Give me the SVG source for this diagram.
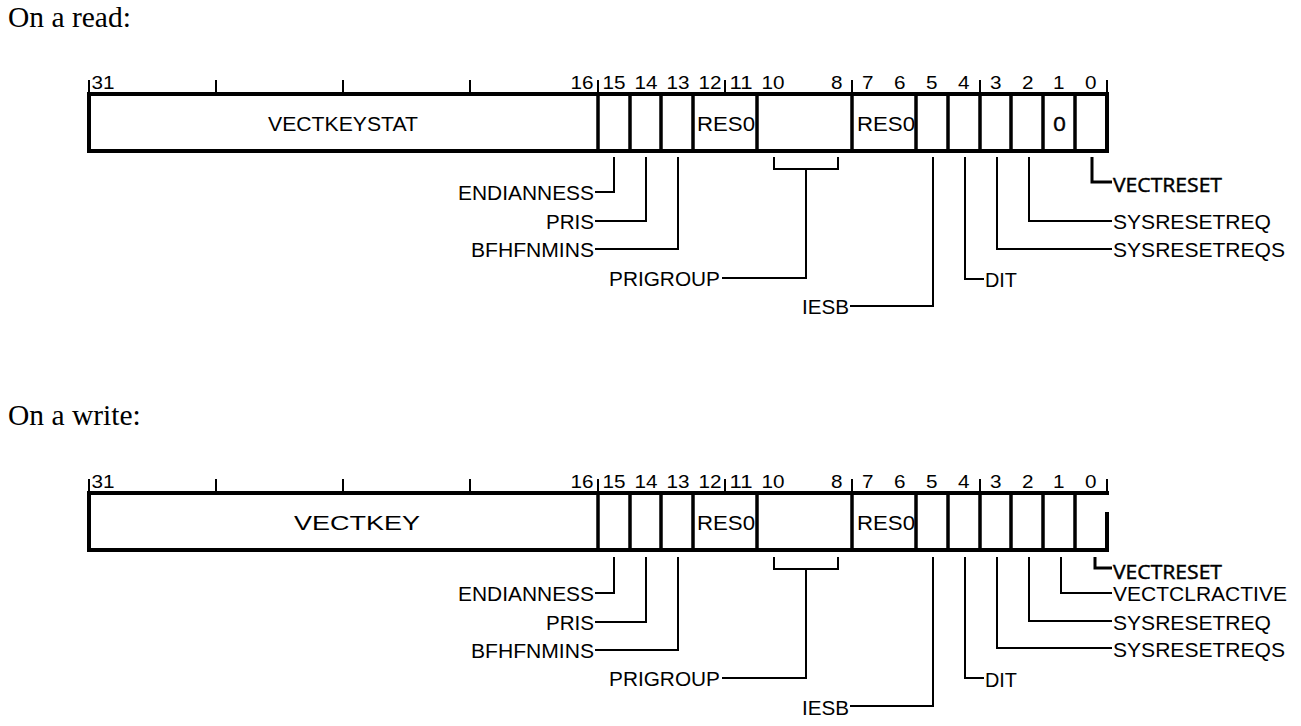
<svg xmlns="http://www.w3.org/2000/svg" width="1301" height="726" viewBox="0 0 1301 726">
<style>
.bg{fill:#fff}
.box{fill:none;stroke:#000;stroke-width:4}
.div{stroke:#000;stroke-width:3.5}
.tick{stroke:#000;stroke-width:2}
.ld{fill:none;stroke:#000;stroke-width:2}
.ldb{fill:none;stroke:#000;stroke-width:3}
.num{font-family:"Liberation Sans",Arial,sans-serif;font-size:18.5px;fill:#000}
.lbl{font-family:"Liberation Sans",Arial,sans-serif;font-size:20px;fill:#000}
.lblb{font-family:"Open Sans","Noto Sans",sans-serif;font-size:19.5px;fill:#000;stroke:#000;stroke-width:0.45}
.ttl{font-family:"Liberation Serif","Times New Roman",serif;font-size:29.5px;fill:#000}
</style>
<rect class="bg" x="0" y="0" width="1301" height="726"/>
<text class="ttl" x="8" y="27">On a read:</text>
<text class="ttl" x="8" y="425">On a write:</text>

<!-- READ register -->
<g id="read-register">
  <g id="read-ticks">
    <line class="tick" x1="89" y1="80" x2="89" y2="94"/>
    <line class="tick" x1="216" y1="80" x2="216" y2="94"/>
    <line class="tick" x1="343" y1="80" x2="343" y2="94"/>
    <line class="tick" x1="470" y1="80" x2="470" y2="94"/>
    <line class="tick" x1="598" y1="80" x2="598" y2="94"/>
    <line class="tick" x1="725" y1="80" x2="725" y2="94"/>
    <line class="tick" x1="852" y1="80" x2="852" y2="94"/>
    <line class="tick" x1="980" y1="80" x2="980" y2="94"/>
    <line class="tick" x1="1107" y1="80" x2="1107" y2="94"/>
  </g>
  <g id="read-bitnums">
    <text class="num" x="91.5" y="89" textLength="23" lengthAdjust="spacingAndGlyphs">31</text>
    <text class="num" x="570.5" y="89" textLength="23" lengthAdjust="spacingAndGlyphs">16</text>
    <text class="num" x="602.5" y="89" textLength="23" lengthAdjust="spacingAndGlyphs">15</text>
    <text class="num" x="634.5" y="89" textLength="23" lengthAdjust="spacingAndGlyphs">14</text>
    <text class="num" x="666.5" y="89" textLength="23" lengthAdjust="spacingAndGlyphs">13</text>
    <text class="num" x="698.5" y="89" textLength="23" lengthAdjust="spacingAndGlyphs">12</text>
    <text class="num" x="729.5" y="89" textLength="23" lengthAdjust="spacingAndGlyphs">11</text>
    <text class="num" x="761.5" y="89" textLength="23" lengthAdjust="spacingAndGlyphs">10</text>
    <text class="num" x="831" y="89" textLength="11.5" lengthAdjust="spacingAndGlyphs">8</text>
    <text class="num" x="862" y="89" textLength="11.5" lengthAdjust="spacingAndGlyphs">7</text>
    <text class="num" x="894" y="89" textLength="11.5" lengthAdjust="spacingAndGlyphs">6</text>
    <text class="num" x="926" y="89" textLength="11.5" lengthAdjust="spacingAndGlyphs">5</text>
    <text class="num" x="958" y="89" textLength="11.5" lengthAdjust="spacingAndGlyphs">4</text>
    <text class="num" x="990" y="89" textLength="11.5" lengthAdjust="spacingAndGlyphs">3</text>
    <text class="num" x="1022" y="89" textLength="11.5" lengthAdjust="spacingAndGlyphs">2</text>
    <text class="num" x="1053" y="89" textLength="11.5" lengthAdjust="spacingAndGlyphs">1</text>
    <text class="num" x="1085" y="89" textLength="11.5" lengthAdjust="spacingAndGlyphs">0</text>
  </g>
  <rect class="box" x="89" y="94" width="1018" height="57"/>
  <g id="read-field-vectkeystat"><text class="lbl" x="268" y="131" textLength="150" lengthAdjust="spacingAndGlyphs">VECTKEYSTAT</text></g>
  <g id="read-field-endianness"><line class="div" x1="598" y1="94" x2="598" y2="151"/></g>
  <g id="read-field-pris"><line class="div" x1="630" y1="94" x2="630" y2="151"/></g>
  <g id="read-field-bfhfnmins"><line class="div" x1="661" y1="94" x2="661" y2="151"/></g>
  <g id="read-field-res0-a"><line class="div" x1="693" y1="94" x2="693" y2="151"/><text class="lbl" x="697" y="131" textLength="58" lengthAdjust="spacingAndGlyphs">RES0</text></g>
  <g id="read-field-prigroup"><line class="div" x1="757" y1="94" x2="757" y2="151"/></g>
  <g id="read-field-res0-b"><line class="div" x1="852" y1="94" x2="852" y2="151"/><text class="lbl" x="857" y="131" textLength="58" lengthAdjust="spacingAndGlyphs">RES0</text></g>
  <g id="read-field-iesb"><line class="div" x1="916" y1="94" x2="916" y2="151"/></g>
  <g id="read-field-dit"><line class="div" x1="948" y1="94" x2="948" y2="151"/></g>
  <g id="read-field-sysresetreqs"><line class="div" x1="980" y1="94" x2="980" y2="151"/></g>
  <g id="read-field-sysresetreq"><line class="div" x1="1011" y1="94" x2="1011" y2="151"/></g>
  <g id="read-field-bit1"><line class="div" x1="1043" y1="94" x2="1043" y2="151"/><text class="lblb" x="1053" y="131" textLength="13" lengthAdjust="spacingAndGlyphs">0</text></g>
  <g id="read-field-vectreset"><line class="div" x1="1075" y1="94" x2="1075" y2="151"/></g>
</g>

<g id="read-labels">
  <text class="lbl" x="458" y="200" textLength="136" lengthAdjust="spacingAndGlyphs">ENDIANNESS</text>
  <text class="lbl" x="546" y="229" textLength="48" lengthAdjust="spacingAndGlyphs">PRIS</text>
  <text class="lbl" x="471" y="257" textLength="123" lengthAdjust="spacingAndGlyphs">BFHFNMINS</text>
  <text class="lbl" x="609" y="286" textLength="111" lengthAdjust="spacingAndGlyphs">PRIGROUP</text>
  <text class="lbl" x="802" y="314" textLength="47" lengthAdjust="spacingAndGlyphs">IESB</text>
  <text class="lbl" x="985" y="287" textLength="32" lengthAdjust="spacingAndGlyphs">DIT</text>
  <text class="lbl" x="1113" y="257" textLength="172" lengthAdjust="spacingAndGlyphs">SYSRESETREQS</text>
  <text class="lbl" x="1113" y="229" textLength="158" lengthAdjust="spacingAndGlyphs">SYSRESETREQ</text>
  <text class="lblb" x="1113" y="192" textLength="109" lengthAdjust="spacingAndGlyphs">VECTRESET</text>
</g>

<g id="read-connectors">
  <polyline class="ld" points="614,157 614,192 595,192"/>
  <polyline class="ld" points="646,157 646,221 595,221"/>
  <polyline class="ld" points="678,157 678,249 595,249"/>
  <polyline class="ld" points="774,157 774,169 838,169 838,157"/>
  <polyline class="ld" points="806,169 806,278 722,278"/>
  <polyline class="ld" points="933,157 933,306 850,306"/>
  <polyline class="ld" points="965,157 965,279 984,279"/>
  <polyline class="ld" points="997,157 997,249 1112,249"/>
  <polyline class="ld" points="1029,157 1029,221 1112,221"/>
  <polyline class="ldb" points="1092,157 1092,182 1112,182"/>
</g>

<!-- WRITE register -->
<g id="write-register">
  <g id="write-ticks">
    <line class="tick" x1="89" y1="479" x2="89" y2="493"/>
    <line class="tick" x1="216" y1="479" x2="216" y2="493"/>
    <line class="tick" x1="343" y1="479" x2="343" y2="493"/>
    <line class="tick" x1="470" y1="479" x2="470" y2="493"/>
    <line class="tick" x1="598" y1="479" x2="598" y2="493"/>
    <line class="tick" x1="725" y1="479" x2="725" y2="493"/>
    <line class="tick" x1="852" y1="479" x2="852" y2="493"/>
    <line class="tick" x1="980" y1="479" x2="980" y2="493"/>
    <line class="tick" x1="1107" y1="479" x2="1107" y2="493"/>
  </g>
  <g id="write-bitnums">
    <text class="num" x="91.5" y="488" textLength="23" lengthAdjust="spacingAndGlyphs">31</text>
    <text class="num" x="570.5" y="488" textLength="23" lengthAdjust="spacingAndGlyphs">16</text>
    <text class="num" x="602.5" y="488" textLength="23" lengthAdjust="spacingAndGlyphs">15</text>
    <text class="num" x="634.5" y="488" textLength="23" lengthAdjust="spacingAndGlyphs">14</text>
    <text class="num" x="666.5" y="488" textLength="23" lengthAdjust="spacingAndGlyphs">13</text>
    <text class="num" x="698.5" y="488" textLength="23" lengthAdjust="spacingAndGlyphs">12</text>
    <text class="num" x="729.5" y="488" textLength="23" lengthAdjust="spacingAndGlyphs">11</text>
    <text class="num" x="761.5" y="488" textLength="23" lengthAdjust="spacingAndGlyphs">10</text>
    <text class="num" x="831" y="488" textLength="11.5" lengthAdjust="spacingAndGlyphs">8</text>
    <text class="num" x="862" y="488" textLength="11.5" lengthAdjust="spacingAndGlyphs">7</text>
    <text class="num" x="894" y="488" textLength="11.5" lengthAdjust="spacingAndGlyphs">6</text>
    <text class="num" x="926" y="488" textLength="11.5" lengthAdjust="spacingAndGlyphs">5</text>
    <text class="num" x="958" y="488" textLength="11.5" lengthAdjust="spacingAndGlyphs">4</text>
    <text class="num" x="990" y="488" textLength="11.5" lengthAdjust="spacingAndGlyphs">3</text>
    <text class="num" x="1022" y="488" textLength="11.5" lengthAdjust="spacingAndGlyphs">2</text>
    <text class="num" x="1053" y="488" textLength="11.5" lengthAdjust="spacingAndGlyphs">1</text>
    <text class="num" x="1085" y="488" textLength="11.5" lengthAdjust="spacingAndGlyphs">0</text>
  </g>
  <path class="box" d="M1107,512 L1107,550 L89,550 L89,493 L1109,493"/>
  <g id="write-field-vectkey"><text class="lbl" x="294" y="530" textLength="126" lengthAdjust="spacingAndGlyphs">VECTKEY</text></g>
  <g id="write-field-endianness"><line class="div" x1="598" y1="493" x2="598" y2="550"/></g>
  <g id="write-field-pris"><line class="div" x1="630" y1="493" x2="630" y2="550"/></g>
  <g id="write-field-bfhfnmins"><line class="div" x1="661" y1="493" x2="661" y2="550"/></g>
  <g id="write-field-res0-a"><line class="div" x1="693" y1="493" x2="693" y2="550"/><text class="lbl" x="697" y="530" textLength="58" lengthAdjust="spacingAndGlyphs">RES0</text></g>
  <g id="write-field-prigroup"><line class="div" x1="757" y1="493" x2="757" y2="550"/></g>
  <g id="write-field-res0-b"><line class="div" x1="852" y1="493" x2="852" y2="550"/><text class="lbl" x="857" y="530" textLength="58" lengthAdjust="spacingAndGlyphs">RES0</text></g>
  <g id="write-field-iesb"><line class="div" x1="916" y1="493" x2="916" y2="550"/></g>
  <g id="write-field-dit"><line class="div" x1="948" y1="493" x2="948" y2="550"/></g>
  <g id="write-field-sysresetreqs"><line class="div" x1="980" y1="493" x2="980" y2="550"/></g>
  <g id="write-field-sysresetreq"><line class="div" x1="1011" y1="493" x2="1011" y2="550"/></g>
  <g id="write-field-vectclractive"><line class="div" x1="1043" y1="493" x2="1043" y2="550"/></g>
  <g id="write-field-vectreset"><line class="div" x1="1075" y1="493" x2="1075" y2="550"/></g>
</g>

<g id="write-labels">
  <text class="lbl" x="458" y="601" textLength="136" lengthAdjust="spacingAndGlyphs">ENDIANNESS</text>
  <text class="lbl" x="546" y="630" textLength="48" lengthAdjust="spacingAndGlyphs">PRIS</text>
  <text class="lbl" x="471" y="658" textLength="123" lengthAdjust="spacingAndGlyphs">BFHFNMINS</text>
  <text class="lbl" x="609" y="686" textLength="111" lengthAdjust="spacingAndGlyphs">PRIGROUP</text>
  <text class="lbl" x="802" y="715" textLength="47" lengthAdjust="spacingAndGlyphs">IESB</text>
  <text class="lbl" x="985" y="687" textLength="32" lengthAdjust="spacingAndGlyphs">DIT</text>
  <text class="lbl" x="1113" y="657" textLength="172" lengthAdjust="spacingAndGlyphs">SYSRESETREQS</text>
  <text class="lbl" x="1113" y="630" textLength="158" lengthAdjust="spacingAndGlyphs">SYSRESETREQ</text>
  <text class="lbl" x="1113" y="601" textLength="174" lengthAdjust="spacingAndGlyphs">VECTCLRACTIVE</text>
  <text class="lblb" x="1113" y="579" textLength="109" lengthAdjust="spacingAndGlyphs">VECTRESET</text>
</g>

<g id="write-connectors">
  <polyline class="ld" points="614,557 614,593 595,593"/>
  <polyline class="ld" points="646,557 646,622 595,622"/>
  <polyline class="ld" points="678,557 678,650 595,650"/>
  <polyline class="ld" points="774,557 774,569 838,569 838,557"/>
  <polyline class="ld" points="806,569 806,678 722,678"/>
  <polyline class="ld" points="933,557 933,706 850,706"/>
  <polyline class="ld" points="965,557 965,678 984,678"/>
  <polyline class="ld" points="997,557 997,648 1112,648"/>
  <polyline class="ld" points="1029,557 1029,621 1112,621"/>
  <polyline class="ld" points="1061,557 1061,593 1112,593"/>
  <polyline class="ldb" points="1095,557 1095,568 1112,568"/>
</g>
</svg>
